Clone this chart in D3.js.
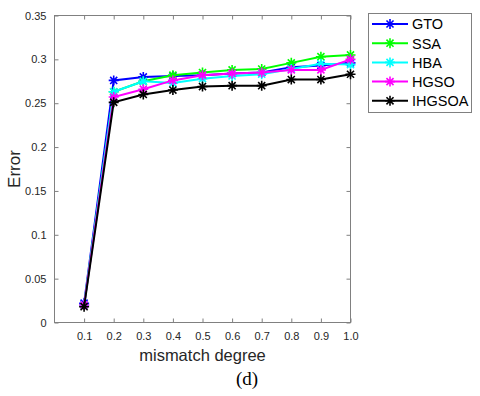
<!DOCTYPE html>
<html><head><meta charset="utf-8">
<script src="https://cdn.jsdelivr.net/npm/d3@7"></script>
<style>body{margin:0;background:#fff}svg{display:block}</style>
</head><body>
<svg id="c" width="480" height="396"></svg>
<script>
const xValues = [0.1,0.2,0.3,0.4,0.5,0.6,0.7,0.8,0.9,1.0];
const xTickLabels = ["0.1","0.2","0.3","0.4","0.5","0.6","0.7","0.8","0.9","1.0"];
const yTicks = [0,0.05,0.1,0.15,0.2,0.25,0.3,0.35];
const yTickLabels = ["0","0.05","0.1","0.15","0.2","0.25","0.3","0.35"];
const seriesNames = ["GTO","SSA","HBA","HGSO","IHGSOA"];
const seriesColors = ["#0000ff","#00ff00","#00ffff","#ff00ff","#000000"];
const GTO    = [0.022,0.276,0.280,0.281,0.282,0.284,0.285,0.291,0.293,0.296];
const SSA    = [0.020,0.263,0.275,0.282,0.285,0.288,0.289,0.296,0.303,0.305];
const HBA    = [0.020,0.263,0.275,0.273,0.278,0.281,0.283,0.289,0.295,0.294];
const HGSO   = [0.020,0.257,0.266,0.276,0.282,0.284,0.285,0.288,0.288,0.300];
const IHGSOA = [0.018,0.251,0.260,0.265,0.269,0.270,0.270,0.277,0.277,0.283];
const seriesValues = [GTO,SSA,HBA,HGSO,IHGSOA];

const svg = d3.select("#c");
const L = 54.5, R = 350.5, T = 15.5, B = 322.5;
const x = d3.scaleLinear().domain([0,1]).range([L,R]);
const y = d3.scaleLinear().domain([0,0.35]).range([B,T]);
const axisCol = "#808080", textCol = "#262626";
const font = "Arial, 'Liberation Sans', sans-serif";

svg.append("rect").attr("x",L).attr("y",T).attr("width",R-L).attr("height",B-T)
  .attr("fill","none").attr("stroke",axisCol).attr("stroke-width",1);

const xAxB = d3.axisBottom(x).tickValues(xValues).tickSize(-4).tickPadding(10)
  .tickFormat((d,i)=>xTickLabels[i]);
const gxb = svg.append("g").attr("transform",`translate(0,${B})`).call(xAxB);
const xAxT = d3.axisTop(x).tickValues(xValues).tickSize(-4).tickFormat("");
const gxt = svg.append("g").attr("transform",`translate(0,${T})`).call(xAxT);
const yAxL = d3.axisLeft(y).tickValues(yTicks).tickSize(-4).tickPadding(8)
  .tickFormat((d,i)=>yTickLabels[i]);
const gyl = svg.append("g").attr("transform",`translate(${L},0)`).call(yAxL);
const yAxR = d3.axisRight(y).tickValues(yTicks).tickSize(-4).tickFormat("");
const gyr = svg.append("g").attr("transform",`translate(${R},0)`).call(yAxR);
[gxb,gxt,gyl,gyr].forEach(g=>{
  g.select(".domain").remove();
  g.selectAll(".tick line").attr("stroke",axisCol);
  g.selectAll(".tick text").attr("fill",textCol).style("font-family",font).style("font-size","11px");
});

svg.append("text").attr("x",(L+R)/2).attr("y",361).attr("text-anchor","middle")
  .style("font-family",font).style("font-size","16.5px").attr("fill",textCol).text("mismatch degree");
svg.append("text").attr("transform",`translate(20,${(T+B)/2}) rotate(-90)`).attr("text-anchor","middle")
  .style("font-family",font).style("font-size","17px").attr("fill",textCol).text("Error");
svg.append("text").attr("x",247).attr("y",385).attr("text-anchor","middle")
  .style("font-family","'Liberation Serif','Times New Roman',serif").style("font-size","19px").attr("fill","#000").text("(d)");

function star(g, cx, cy, r, col){
  const d = r*0.7071;
  const p = `M${cx-r},${cy}L${cx+r},${cy}M${cx},${cy-r}L${cx},${cy+r}M${cx-d},${cy-d}L${cx+d},${cy+d}M${cx-d},${cy+d}L${cx+d},${cy-d}`;
  g.append("path").attr("d",p).attr("stroke",col).attr("stroke-width",1.6).attr("fill","none");
}

const line = d3.line().x((d,i)=>x(xValues[i])).y(d=>y(d));
seriesValues.forEach((vals,k)=>{
  const g = svg.append("g");
  g.append("path").datum(vals).attr("d",line).attr("fill","none")
    .attr("stroke",seriesColors[k]).attr("stroke-width",2);
  vals.forEach((v,i)=>star(g, x(xValues[i]), y(v), 5, seriesColors[k]));
});

const lg = svg.append("g");
lg.append("rect").attr("x",368.5).attr("y",13.5).attr("width",103).attr("height",99)
  .attr("fill","#fff").attr("stroke",axisCol);
seriesNames.forEach((n,k)=>{
  const yy = 24 + k*19.2;
  lg.append("line").attr("x1",372).attr("x2",408).attr("y1",yy).attr("y2",yy)
    .attr("stroke",seriesColors[k]).attr("stroke-width",2);
  star(lg,390,yy,5,seriesColors[k]);
  lg.append("text").attr("x",412).attr("y",yy+5.3).style("font-family",font)
    .style("font-size","14.5px").attr("fill","#000").text(n);
});
</script>
</body></html>
